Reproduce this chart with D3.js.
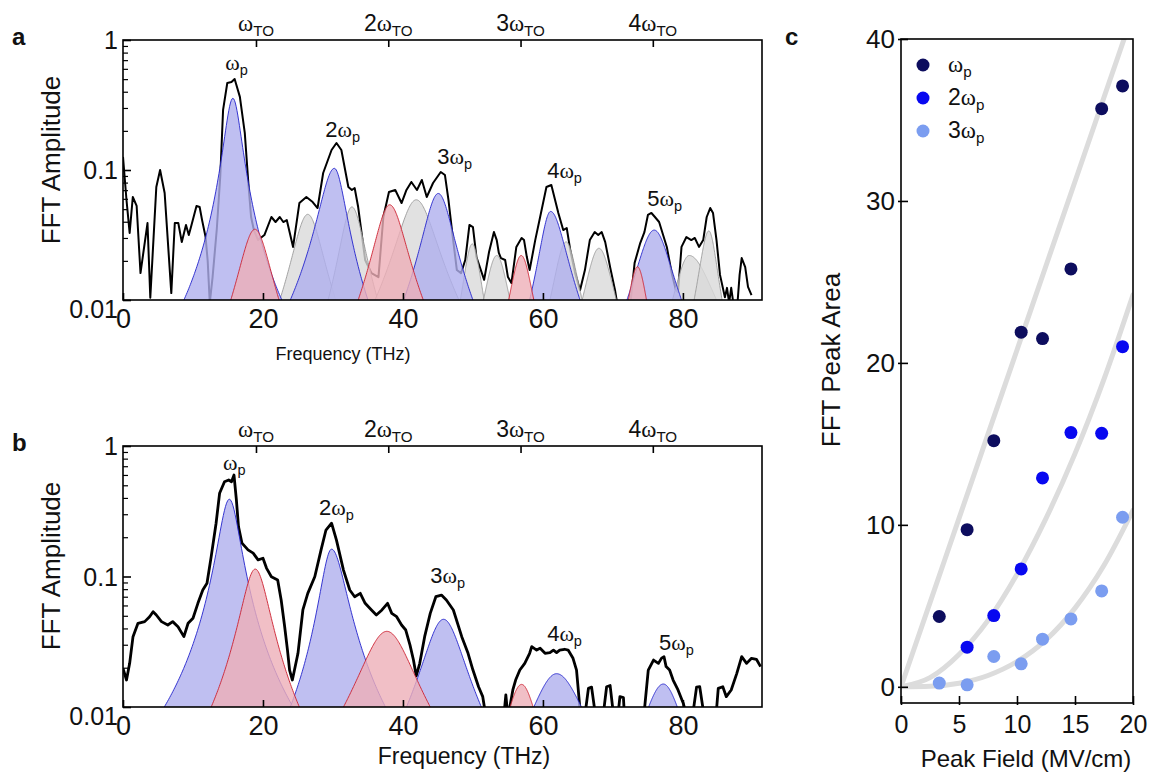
<!DOCTYPE html>
<html>
<head>
<meta charset="utf-8">
<script src="https://cdn.jsdelivr.net/npm/d3@7"></script>
<style>
body { margin: 0; background: #fff; }
text { font-family: "Liberation Sans", Arial, sans-serif; fill: #111; }
</style>
</head>
<body>
<div id="chart"></div>
<script>
// ---- panel a : FFT spectrum (frequency THz, amplitude) ----
const freqA = [0,0.5,0.95,1.4,1.95,2.5,3.5,3.9,4.76,5.3,5.95,6.9,7.4,7.9,8.4,9.0,9.4,9.75,10.5,10.95,11.3,11.8,12.1,12.4,12.8,13.4,13.9,14.3,14.9,15.5,15.95,16.7,17.4,17.95,18.3,18.7,19.3,20.2,21.2,21.8,22.4,22.9,23.4,23.8,24.3,25.2,26.2,27.1,27.8,28.6,29.8,30.5,31.2,32.2,32.7,33.1,33.6,34.6,35.5,36.5,37.2,38.0,38.9,39.8,40.5,41.2,42.0,42.7,43.4,44.3,45.4,46.0,46.5,47.0,47.7,48.3,48.9,49.5,50.0,50.5,51.6,52.3,53.0,53.4,53.7,54.0,54.6,55.0,55.5,56.2,56.95,57.3,57.7,58.1,58.9,59.6,60.5,61.2,62.2,62.9,63.4,63.9,64.6,65.3,66.0,66.7,67.4,67.9,68.4,68.9,69.6,70.3,70.6,72.5,73.1,73.9,74.5,75.0,75.5,76.0,76.6,77.7,78.4,79.0,79.3,79.8,80.5,81.2,81.7,82.3,82.9,83.4,83.9,84.3,84.8,85.3,86.0,86.3,86.6,86.9,87.2,87.8,88.1,88.4,88.9,89.3,89.8];
const ampA = [0.126,0.0588,0.0328,0.062,0.0529,0.0161,0.0391,0.0104,0.074,0.1,0.0665,0.0113,0.0391,0.0391,0.0279,0.0378,0.0316,0.0371,0.0529,0.0519,0.0412,0.0305,0.02,0.0095,0.015,0.035,0.09,0.29,0.467,0.475,0.501,0.365,0.193,0.074,0.0435,0.0345,0.0289,0.0316,0.0435,0.0398,0.0435,0.0398,0.0412,0.0333,0.0256,0.0557,0.062,0.0567,0.051,0.0948,0.1425,0.1614,0.1425,0.074,0.0702,0.0727,0.0519,0.0203,0.0161,0.015,0.0435,0.0677,0.0702,0.0557,0.0702,0.0809,0.0702,0.0838,0.062,0.0794,0.0966,0.0915,0.0588,0.0345,0.017,0.0161,0.0203,0.0378,0.0364,0.0214,0.0143,0.0234,0.0333,0.0289,0.023,0.021,0.0203,0.015,0.0135,0.0256,0.03,0.0289,0.0214,0.017,0.0289,0.0435,0.074,0.0767,0.0467,0.0345,0.0358,0.0243,0.0161,0.0119,0.017,0.0289,0.0333,0.0316,0.0333,0.0279,0.0179,0.0119,0.0095,0.0095,0.0193,0.0274,0.0333,0.0451,0.0467,0.0435,0.0398,0.0256,0.0161,0.0119,0.0115,0.0256,0.0305,0.0289,0.03,0.0256,0.0289,0.0435,0.051,0.0467,0.0289,0.0156,0.0105,0.0124,0.0095,0.0124,0.0095,0.0095,0.0156,0.021,0.0179,0.0126,0.0109];

// fitted components: [centre, peak amplitude, left foot, right foot] (foot = where it meets 0.01)
const blueA = [[15.7,0.356,8.7,22.7],[30.2,0.103,23.9,35.0],[45.05,0.066,40.1,50.0],[61.1,0.048,58.1,65.3],[75.9,0.0345,72.0,79.8]];
const redA = [[18.85,0.035,15.4,22.3],[38.1,0.054,33.6,42.9],[56.9,0.022,55.1,58.7],[73.5,0.018,72.2,74.8]];
const grayA = [[26.4,0.0456,22.4,30.4],[32.7,0.052,29.3,36.4],[41.9,0.059,36.0,48.0],[49.9,0.027,48.2,51.6],[53.4,0.022,51.5,55.3],[63.3,0.028,61.0,65.6],[68.0,0.025,65.6,70.5],[80.9,0.022,78.5,84.8],[83.7,0.034,81.6,85.6]];

// ---- panel b ----
const freqB = [0,0.5,0.95,1.43,2.14,3.1,3.8,4.3,4.76,5.5,6.4,7.1,7.86,8.7,9.3,10.0,10.7,11.4,12.0,12.6,13.3,13.8,14.5,15.1,15.5,15.86,16.2,16.5,17.0,17.86,18.6,19.3,20.0,20.5,21.2,22.1,22.6,23.1,23.5,23.8,24.2,25.0,25.7,26.4,27.4,28.3,29.0,29.8,30.5,31.5,32.4,33.1,33.9,34.6,35.5,36.2,37.0,37.8,38.4,39.1,39.8,40.4,41.0,41.5,41.9,42.4,43.1,43.9,44.7,45.5,46.2,47.2,48.4,49.3,50.0,50.8,51.4,51.7,54.5,54.7,54.9,55.2,55.7,56.1,56.7,57.4,58.1,58.4,59.1,59.6,60.3,61.0,61.5,61.95,62.4,63.1,63.6,64.3,64.8,65.05,65.3,66.1,66.5,66.95,67.4,68.7,69.1,69.6,70.0,70.8,71.0,71.5,71.6,74.5,75.05,75.8,76.5,76.95,77.3,77.6,78.1,78.6,79.3,80.05,80.3,81.5,81.95,82.4,82.9,84.8,85.05,85.7,86.2,86.9,87.7,88.4,89.1,89.8,90.5,91.1];
const ampB = [0.0198,0.0161,0.0216,0.0346,0.0438,0.0451,0.0492,0.0537,0.0507,0.0451,0.0425,0.0451,0.0412,0.0346,0.0438,0.0479,0.0623,0.0788,0.0887,0.142,0.256,0.434,0.532,0.549,0.532,0.599,0.386,0.241,0.18,0.16,0.151,0.134,0.138,0.116,0.0996,0.094,0.0661,0.0412,0.0273,0.0192,0.0161,0.0258,0.0554,0.0743,0.0996,0.16,0.227,0.256,0.19,0.112,0.0788,0.07,0.0743,0.0623,0.0554,0.0507,0.0554,0.0623,0.0522,0.0492,0.0425,0.0389,0.0299,0.0229,0.0173,0.0216,0.0346,0.0522,0.07,0.0721,0.0661,0.0554,0.0346,0.0258,0.0192,0.0143,0.012,0.0095,0.0095,0.0124,0.0095,0.0095,0.0135,0.0161,0.0192,0.0216,0.0258,0.029,0.0273,0.0282,0.0258,0.0261,0.0273,0.0261,0.0273,0.0277,0.0273,0.0236,0.0192,0.0135,0.0095,0.0095,0.0139,0.0142,0.0095,0.0095,0.0143,0.0146,0.0095,0.0095,0.012,0.0118,0.0095,0.0095,0.0192,0.0229,0.0216,0.0237,0.0243,0.0204,0.0192,0.0161,0.0135,0.0107,0.0095,0.0095,0.0142,0.0143,0.0095,0.0095,0.0139,0.0143,0.012,0.0135,0.0181,0.0243,0.0216,0.0236,0.0232,0.0204];
const blueB = [[15.2,0.391,5.9,24.3],[29.8,0.162,23.9,37.5],[45.8,0.047,40.5,51.2],[61.95,0.018,58.7,65.5],[77.2,0.015,75.1,79.2]];
const redB = [[18.9,0.114,12.6,25.2],[37.7,0.038,31.5,43.9],[56.95,0.0149,55.3,58.6]];
const grayB = [];

// harmonic labels: [prefix, frequency, amplitude] of text anchor
const peakLabelsA = [["",14.6,0.588],["2",28.9,0.179],["3",44.9,0.111],["4",60.6,0.0868],["5",74.9,0.0529]];
const peakLabelsB = [["",14.3,0.655],["2",28.0,0.296],["3",43.9,0.0891],["4",60.6,0.0321],["5",76.6,0.0273]];
const toTicks = [19.0, 37.9, 56.8, 75.7];
const toLabels = ["", "2", "3", "4"];

// ---- panel c : peak area vs field ----
const fieldC = [3.3, 5.7, 8.0, 10.36, 12.2, 14.65, 17.3, 19.1];
const area1 = [4.34, 9.7, 15.2, 21.9, 21.5, 25.8, 35.7, 37.1];
const area2 = [null, 2.45, 4.4, 7.28, 12.9, 15.7, 15.65, 21.0];
const area3 = [0.23, 0.12, 1.87, 1.42, 2.94, 4.19, 5.92, 10.47];
const fitX = [0, 2.5, 5, 7.5, 10, 12.5, 15, 17.5, 20];
const fit1 = [0, 5.2, 10.4, 15.6, 20.8, 26, 31.2, 36.4, 41.6];
const fit2 = [0, 0.57, 2.0, 4.1, 6.95, 10.4, 14.4, 19.0, 24.2];
const fit3 = [0, 0.03, 0.22, 0.7, 1.56, 2.9, 4.86, 7.5, 10.9];
const seriesNames = ["", "2", "3"];
const seriesColors = ["#0d0d5e", "#0808f0", "#7b9df0"];

const svg = d3.select("#chart").append("svg")
    .attr("width", 1155).attr("height", 781);

const omega = function(sel, pre, sub){
    sel.append("tspan").text(pre)
    sel.append("tspan").attr("font-family", "'Liberation Serif', serif").text("ω")
    sel.append("tspan").attr("font-size", "0.66em").attr("dy", "0.32em").text(sub)
}

// Lorentzian component that reaches 0.01 at its left/right foot
const peakShape = function([c, a, l, r]){
    return d3.range(0, 121).map(i => {
        const f = l + (r - l) * i / 120
        const gam = (f < c ? c - l : r - c) / Math.sqrt(a / 0.01 - 1)
        return [f, a / (1 + ((f - c) / gam) ** 2)]
    })
}

const drawSpectrum = function(p){
    const x = d3.scaleLinear().domain([0, 91.3]).range([123, 762])
    const y = d3.scaleLog().domain([0.01, 1]).range([p.bottom, p.top])
    const g = svg.append("g")
    const clipId = "clip" + p.letter
    g.append("clipPath").attr("id", clipId)
      .append("rect").attr("x", 123).attr("y", p.top)
      .attr("width", 639).attr("height", p.bottom - p.top)

    const line = d3.line().x(d => x(d[0])).y(d => y(d[1]))
    g.append("path")
      .attr("clip-path", `url(#${clipId})`)
      .attr("fill", "none").attr("stroke", "#000")
      .attr("stroke-width", p.lw).attr("stroke-linejoin", "round")
      .attr("d", line(d3.zip(p.freq, p.amp)))

    const area = d3.area().x(d => x(d[0])).y0(y(0.01)).y1(d => y(d[1]))
    const comps = [[p.gray, "#d9d9d9", "#9a9a9a"], [p.blue, "#afafed", "#2323cc"], [p.red, "#edafb8", "#cc2030"]]
    comps.forEach(([list, fill, stroke]) => {
        list.forEach(pk => {
            const pts = peakShape(pk)
            g.append("path").attr("fill", fill).attr("fill-opacity", 0.8).attr("d", area(pts))
            g.append("path").attr("fill", "none").attr("stroke", stroke)
              .attr("stroke-width", 0.9).attr("d", line(pts))
        })
    })

    // frame
    g.append("rect").attr("x", 123).attr("y", p.top).attr("width", 639)
      .attr("height", p.bottom - p.top).attr("fill", "none")
      .attr("stroke", "#000").attr("stroke-width", 1.6)

    const xAx = g.append("g").attr("transform", `translate(0,${p.bottom})`)
      .call(d3.axisBottom(x).tickValues([0, 20, 40, 60, 80]).tickSize(-7).tickPadding(9))
    xAx.select(".domain").remove()
    xAx.selectAll("line").attr("stroke-width", 1.6)
    xAx.selectAll("text").attr("font-size", 27).attr("font-family", null)

    const major = [0.01, 0.1, 1]
    const minor = d3.range(2, 10).flatMap(k => [k * 0.01, k * 0.1])
    const yAx = g.append("g").attr("transform", "translate(123,0)")
      .call(d3.axisLeft(y).tickValues(major).tickSize(-8).tickPadding(5)
        .tickFormat(d => d === 1 ? "1" : d === 0.1 ? "0.1" : "0.01"))
    yAx.select(".domain").remove()
    yAx.selectAll("line").attr("stroke-width", 1.6)
    yAx.selectAll("text").attr("font-size", 25).attr("font-family", null)
      .attr("dy", d => d === 0.01 ? "0.7em" : "0.35em")
    const yMin = g.append("g").attr("transform", "translate(123,0)")
      .call(d3.axisLeft(y).tickValues(minor).tickSize(-5).tickFormat(""))
    yMin.select(".domain").remove()
    yMin.selectAll("line").attr("stroke-width", 1.2)

    const tAx = g.append("g").attr("transform", `translate(0,${p.top})`)
      .call(d3.axisTop(x).tickValues(toTicks).tickSize(-7).tickFormat(""))
    tAx.select(".domain").remove()
    tAx.selectAll("line").attr("stroke-width", 1.6)
    toTicks.forEach((t, i) => {
        g.append("text").attr("x", x(t)).attr("y", p.top - 9)
          .attr("text-anchor", "middle").attr("font-size", 23)
          .call(omega, toLabels[i], "TO")
    })

    p.labels.forEach(([pre, f, v]) => {
        g.append("text").attr("x", x(f)).attr("y", y(v)).attr("font-size", 22)
          .call(omega, pre, "p")
    })

    g.append("text").attr("transform", `translate(60,${p.yLabelY}) rotate(-90)`)
      .attr("text-anchor", "middle").attr("font-size", 26).text("FFT Amplitude")
    g.append("text").attr("x", p.xLabelX).attr("y", p.xLabelY)
      .attr("text-anchor", "middle").attr("font-size", p.xLabelSize).text("Frequency (THz)")
    g.append("text").attr("x", 12).attr("y", p.top + 5)
      .attr("font-size", 24).attr("font-weight", "bold").text(p.letter)
}

drawSpectrum({letter: "a", top: 40, bottom: 300, freq: freqA, amp: ampA, lw: 2,
    blue: blueA, red: redA, gray: grayA, labels: peakLabelsA,
    yLabelY: 160, xLabelX: 343, xLabelY: 360, xLabelSize: 18})
drawSpectrum({letter: "b", top: 446, bottom: 707, freq: freqB, amp: ampB, lw: 2.8,
    blue: blueB, red: redB, gray: grayB, labels: peakLabelsB,
    yLabelY: 566, xLabelX: 464, xLabelY: 764, xLabelSize: 23})

// ---- panel c ----
const xc = d3.scaleLinear().domain([0, 20]).range([901, 1133])
const yc = d3.scaleLinear().domain([-1, 40]).range([703, 39])
const gc = svg.append("g")
gc.append("clipPath").attr("id", "clipc")
  .append("rect").attr("x", 901).attr("y", 39).attr("width", 232).attr("height", 664)

const fitLine = d3.line().x(d => xc(d[0])).y(d => yc(d[1])).curve(d3.curveMonotoneX)
;[fit1, fit2, fit3].forEach(fit => {
    gc.append("path").attr("clip-path", "url(#clipc)")
      .attr("fill", "none").attr("stroke", "#dcdcdc").attr("stroke-width", 5)
      .attr("stroke-linecap", "round")
      .attr("d", fitLine(d3.zip(fitX, fit)))
})

;[area1, area2, area3].forEach((vals, s) => {
    gc.selectAll(null)
      .data(d3.zip(fieldC, vals).filter(d => d[1] !== null))
      .join("circle")
        .attr("cx", d => xc(d[0])).attr("cy", d => yc(d[1]))
        .attr("r", 6.5).attr("fill", seriesColors[s])
})

gc.append("rect").attr("x", 901).attr("y", 39).attr("width", 232).attr("height", 664)
  .attr("fill", "none").attr("stroke", "#000").attr("stroke-width", 1.6)

const xcAx = gc.append("g").attr("transform", "translate(0,703)")
  .call(d3.axisBottom(xc).tickValues([0, 5, 10, 15, 20]).tickSize(-7).tickPadding(12))
xcAx.select(".domain").remove()
xcAx.selectAll("line").attr("stroke-width", 1.6).attr("y1", 2)
xcAx.selectAll("text").attr("font-size", 25).attr("font-family", null)

const ycAx = gc.append("g").attr("transform", "translate(901,0)")
  .call(d3.axisLeft(yc).tickValues([0, 10, 20, 30, 40]).tickSize(-7).tickPadding(6))
ycAx.select(".domain").remove()
ycAx.selectAll("line").attr("stroke-width", 1.6).attr("x1", -3)
ycAx.selectAll("text").attr("font-size", 26).attr("font-family", null)

seriesNames.forEach((name, i) => {
    const ly = 65 + i * 33
    gc.append("circle").attr("cx", 923).attr("cy", ly).attr("r", 6.5).attr("fill", seriesColors[i])
    gc.append("text").attr("x", 948).attr("y", ly + 7).attr("font-size", 23).call(omega, name, "p")
})

gc.append("text").attr("transform", "translate(840,360) rotate(-90)")
  .attr("text-anchor", "middle").attr("font-size", 26).text("FFT Peak Area")
gc.append("text").attr("x", 1026).attr("y", 767)
  .attr("text-anchor", "middle").attr("font-size", 24).text("Peak Field (MV/cm)")
gc.append("text").attr("x", 785).attr("y", 45)
  .attr("font-size", 24).attr("font-weight", "bold").text("c")
</script>
</body>
</html>
